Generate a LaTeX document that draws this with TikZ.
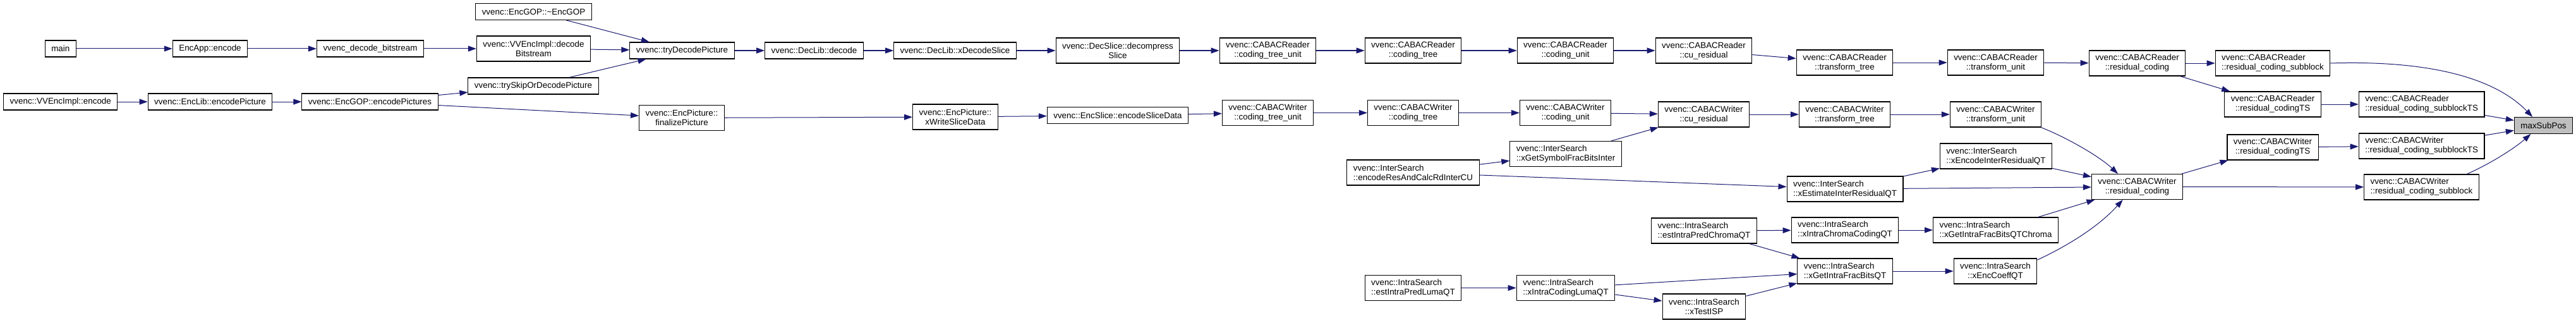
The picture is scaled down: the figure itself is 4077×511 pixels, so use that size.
\documentclass[tikz,border=0pt]{standalone}
\usepackage{fontspec}
\setmainfont{Liberation Sans}
\usetikzlibrary{arrows.meta}
\definecolor{callblue}{RGB}{25,25,112}
\definecolor{hitgray}{RGB}{191,191,191}
\tikzset{
  fn/.style={draw=black, fill=white, line width=1.1pt, inner xsep=10pt, inner ysep=0pt,
    minimum height=26pt, align=center, font=\fontsize{13.4}{15}\selectfont},
  fntwo/.style={fn, minimum height=40pt},
  fnleft/.style={fntwo, align=left},
  fnhit/.style={fn, fill=hitgray},
  call/.style={-{Triangle[length=13pt,width=9pt]}, line width=1pt, callblue}
}
\begin{document}
\begin{tikzpicture}[x=1pt,y=-1pt]
  \useasboundingbox (0,0) rectangle (4077,511);
  % callers of the encoder / decoder
  \node[fn] (main) at (95.8,77) {main};
  \node[fn] (appEncode) at (332.5,77) {EncApp::encode};
  \node[fn] (decBitstream) at (586,77) {vvenc\_decode\_bitstream};
  \node[fn] (implEncode) at (95.8,161) {vvenc::VVEncImpl::encode};
  \node[fn] (libEncPic) at (332.5,161) {vvenc::EncLib::encodePicture};
  \node[fn] (gopEncPics) at (585.5,161) {vvenc::EncGOP::encodePictures};
  \node[fn] (gopDtor) at (844.5,18.5) {vvenc::EncGOP::\textasciitilde EncGOP};
  \node[fntwo] (implDecBs) at (844.5,77) {vvenc::VVEncImpl::decode\\Bitstream};
  \node[fn] (trySkip) at (844,136) {vvenc::trySkipOrDecodePicture};
  \node[fn] (tryDecode) at (1079.5,80) {vvenc::tryDecodePicture};
  \node[fntwo] (finalizePic) at (1079,186.5) {vvenc::EncPicture::\\finalizePicture};
  \node[fn] (libDecode) at (1288.5,80) {vvenc::DecLib::decode};
  \node[fn] (xDecSlice) at (1511.5,80) {vvenc::DecLib::xDecodeSlice};
  \node[fntwo] (decompSlice) at (1769,80) {vvenc::DecSlice::decompress\\Slice};
  \node[fntwo] (writeSlice) at (1512,185) {vvenc::EncPicture::\\xWriteSliceData};
  \node[fn] (encSliceData) at (1769,182.5) {vvenc::EncSlice::encodeSliceData};
  % reader chain
  \node[fntwo] (rCtu) at (2006.5,80) {vvenc::CABACReader\\::coding\_tree\_unit};
  \node[fntwo] (rTree) at (2236.5,80) {vvenc::CABACReader\\::coding\_tree};
  \node[fntwo] (rCu) at (2477.5,80) {vvenc::CABACReader\\::coding\_unit};
  \node[fntwo] (rCuRes) at (2696.5,80) {vvenc::CABACReader\\::cu\_residual};
  \node[fntwo] (rTrTree) at (2919.5,99) {vvenc::CABACReader\\::transform\_tree};
  \node[fntwo] (rTrUnit) at (3158.5,99) {vvenc::CABACReader\\::transform\_unit};
  \node[fntwo] (rResc) at (3382.5,100) {vvenc::CABACReader\\::residual\_coding};
  \node[fnleft] (rSub) at (3597,100) {vvenc::CABACReader\\::residual\_coding\_subblock};
  \node[fntwo] (rRescTS) at (3597,165) {vvenc::CABACReader\\::residual\_codingTS};
  \node[fnleft] (rSubTS) at (3832.6,165) {vvenc::CABACReader\\::residual\_coding\_subblockTS};
  % writer chain
  \node[fntwo] (wCtu) at (2006.5,178.5) {vvenc::CABACWriter\\::coding\_tree\_unit};
  \node[fntwo] (wTree) at (2236.5,178.5) {vvenc::CABACWriter\\::coding\_tree};
  \node[fntwo] (wCu) at (2477.5,178.5) {vvenc::CABACWriter\\::coding\_unit};
  \node[fntwo] (wCuRes) at (2696.5,181) {vvenc::CABACWriter\\::cu\_residual};
  \node[fntwo] (wTrTree) at (2919.5,181) {vvenc::CABACWriter\\::transform\_tree};
  \node[fntwo] (wTrUnit) at (3158.5,181) {vvenc::CABACWriter\\::transform\_unit};
  \node[fntwo] (wResc) at (3382.5,295.5) {vvenc::CABACWriter\\::residual\_coding};
  \node[fntwo] (wRescTS) at (3597,233) {vvenc::CABACWriter\\::residual\_codingTS};
  \node[fnleft] (wSubTS) at (3832.6,231) {vvenc::CABACWriter\\::residual\_coding\_subblockTS};
  \node[fnleft] (wSub) at (3832.4,296) {vvenc::CABACWriter\\::residual\_coding\_subblock};
  \node[fnhit] (maxpos) at (4025.5,198.5) {maxSubPos};
  % inter search
  \node[fnleft] (symFrac) at (2478,243.5) {vvenc::InterSearch\\::xGetSymbolFracBitsInter};
  \node[fnleft] (encResCU) at (2236.5,273) {vvenc::InterSearch\\::encodeResAndCalcRdInterCU};
  \node[fnleft] (encInterRes) at (3159,247) {vvenc::InterSearch\\::xEncodeInterResidualQT};
  \node[fnleft] (estInterRes) at (2920,299) {vvenc::InterSearch\\::xEstimateInterResidualQT};
  % intra search
  \node[fnleft] (estChroma) at (2697,365) {vvenc::IntraSearch\\::estIntraPredChromaQT};
  \node[fnleft] (estLuma) at (2236.5,455.5) {vvenc::IntraSearch\\::estIntraPredLumaQT};
  \node[fnleft] (codingLuma) at (2478,455.5) {vvenc::IntraSearch\\::xIntraCodingLumaQT};
  \node[fntwo] (testIsp) at (2697,485) {vvenc::IntraSearch\\::xTestISP};
  \node[fnleft] (chromaCoding) at (2920,364) {vvenc::IntraSearch\\::xIntraChromaCodingQT};
  \node[fnleft] (fracChroma) at (3158.5,364) {vvenc::IntraSearch\\::xGetIntraFracBitsQTChroma};
  \node[fnleft] (fracQT) at (2920,429) {vvenc::IntraSearch\\::xGetIntraFracBitsQT};
  \node[fntwo] (encCoeff) at (3158,429) {vvenc::IntraSearch\\::xEncCoeffQT};
  % calls
  \foreach \a/\b in {main/appEncode, appEncode/decBitstream, decBitstream/implDecBs,
      gopDtor/tryDecode, implDecBs/tryDecode, trySkip/tryDecode,
      implEncode/libEncPic, libEncPic/gopEncPics, gopEncPics/trySkip, gopEncPics/finalizePic,
      tryDecode/libDecode, libDecode/xDecSlice, xDecSlice/decompSlice, decompSlice/rCtu,
      finalizePic/writeSlice, writeSlice/encSliceData, encSliceData/wCtu,
      rCtu/rTree, rTree/rCu, rCu/rCuRes, rCuRes/rTrTree, rTrTree/rTrUnit, rTrUnit/rResc,
      rResc/rSub, rResc/rRescTS, rRescTS/rSubTS, rSubTS/maxpos,
      wCtu/wTree, wTree/wCu, wCu/wCuRes, symFrac/wCuRes, encResCU/symFrac, encResCU/estInterRes,
      wCuRes/wTrTree, wTrTree/wTrUnit, estInterRes/encInterRes, encInterRes/wResc,
      estInterRes/wResc, fracChroma/wResc,
      estChroma/chromaCoding, estChroma/fracQT, chromaCoding/fracChroma,
      codingLuma/fracQT, testIsp/fracQT, estLuma/codingLuma, codingLuma/testIsp, fracQT/encCoeff,
      wResc/wRescTS, wResc/wSub, wRescTS/wSubTS, wSubTS/maxpos}
    \draw[call] (\a) -- (\b);
  \draw[call] (rSub.east) .. controls (3850,95) and (3950,125) .. (maxpos.142);
  \draw[call] (wSub.16) .. controls (3950,255) and (3985,230) .. (maxpos.214);
  \draw[call] (wTrUnit.-16) .. controls (3265,215) and (3320,245) .. (wResc.146);
  \draw[call] (encCoeff.15) .. controls (3270,390) and (3320,360) .. (wResc.222);
\end{tikzpicture}
\end{document}
